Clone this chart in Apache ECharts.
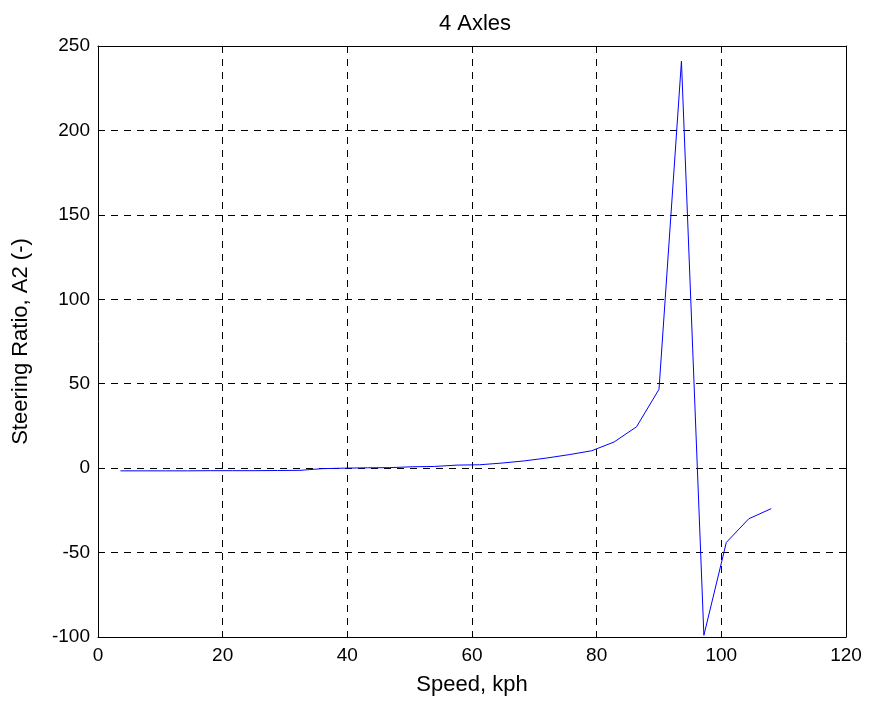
<!DOCTYPE html>
<html><head><meta charset="utf-8">
<script src="https://cdn.jsdelivr.net/npm/echarts@6/dist/echarts.min.js"></script>
<style>html,body{margin:0;padding:0;background:#fff}#c{width:870px;height:702px}</style>
</head><body><div id="c"></div>
<script>
const speeds = [3.6,7.2,10.8,14.4,18,21.6,25.2,28.8,32.4,36,39.6,43.2,46.8,50.4,54,57.6,61.2,64.8,68.4,72,75.6,79.2,82.8,86.4,90,93.6,97.2,100.8,104.4,108];
const ratio = [-1.6,-1.6,-1.6,-1.6,-1.5,-1.5,-1.5,-1.4,-1.3,-0.3,0,0.2,0.3,0.8,1.0,1.8,2.0,3.0,4.3,6.0,8.0,10.3,15.5,24.5,46.7,241,-99,-44,-30,-24];
const xTicks = [0,20,40,60,80,100,120];
const yTicks = [-100,-50,0,50,100,150,200,250];
const font = 'Liberation Sans, Arial, sans-serif';
const chart = echarts.init(document.getElementById('c'));
const gridLine = {show:true,lineStyle:{color:'#000',type:[7,6],width:1}};
chart.setOption({
  animation:false,
  title:{text:'4 Axles',left:470,top:8,textAlign:'center',textStyle:{fontFamily:font,fontSize:22,fontWeight:'normal',color:'#000'}},
  grid:{left:98,right:24,top:46,bottom:65,containLabel:false},
  xAxis:[{type:'value',min:xTicks[0],max:xTicks[xTicks.length-1],interval:20,position:'bottom',
    name:'Speed, kph',nameLocation:'middle',nameGap:37,nameTextStyle:{fontFamily:font,fontSize:22,color:'#000'},
    axisLine:{show:true,onZero:false,lineStyle:{color:'#000',width:1}},
    axisTick:{show:true,inside:true,length:6,lineStyle:{color:'#000'}},
    axisLabel:{fontFamily:font,fontSize:19,color:'#000',margin:9},
    splitLine:gridLine},
   {type:'value',min:xTicks[0],max:xTicks[xTicks.length-1],interval:20,position:'top',
    axisLine:{show:true,onZero:false,lineStyle:{color:'#000',width:1}},
    axisTick:{show:true,inside:true,length:6,lineStyle:{color:'#000'}},
    axisLabel:{show:false},splitLine:{show:false}}],
  yAxis:[{type:'value',min:yTicks[0],max:yTicks[yTicks.length-1],interval:50,position:'left',
    name:'Steering Ratio, A2 (-)',nameLocation:'middle',nameGap:66,nameTextStyle:{fontFamily:font,fontSize:22,color:'#000'},
    axisLine:{show:true,onZero:false,lineStyle:{color:'#000',width:1}},
    axisTick:{show:true,inside:true,length:6,lineStyle:{color:'#000'}},
    axisLabel:{fontFamily:font,fontSize:19,color:'#000',margin:8},
    splitLine:gridLine},
   {type:'value',min:yTicks[0],max:yTicks[yTicks.length-1],interval:50,position:'right',
    axisLine:{show:true,onZero:false,lineStyle:{color:'#000',width:1}},
    axisTick:{show:true,inside:true,length:6,lineStyle:{color:'#000'}},
    axisLabel:{show:false},splitLine:{show:false}}],
  series:[{type:'line',data:speeds.map((s,i)=>[s,ratio[i]]),showSymbol:false,symbol:'none',
    lineStyle:{color:'#0000ff',width:1},xAxisIndex:0,yAxisIndex:0}]
});
</script></body></html>
